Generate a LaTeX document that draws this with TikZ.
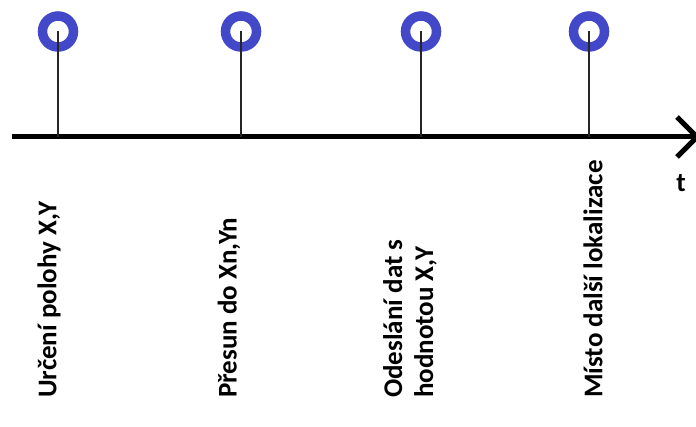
\documentclass[tikz,border=0pt]{standalone}
\usepackage{fontspec}
\setmainfont{Carlito}
\definecolor{evblue}{RGB}{66,72,200}
\begin{document}
\begin{tikzpicture}[x=1pt,y=-1pt,
  event/.style={circle, draw=evblue, line width=9.5pt, minimum size=31pt, inner sep=0pt},
  stem/.style={draw=black!85, line width=1.7pt},
  axis/.style={draw=black, line width=5pt},
  chev/.style={draw=black, line width=5pt, line join=miter},
  lab/.style={font=\bfseries\fontsize{27}{31}\selectfont, rotate=90, anchor=west, inner sep=0pt, align=left}]
\useasboundingbox (0,0) rectangle (696,427);

% time axis with an open arrow head
\coordinate (axstart) at (12,137);
\coordinate (axend) at (697,137);
\coordinate (barbU) at (677,117);
\coordinate (barbL) at (677,157);
\draw[axis] (axstart) -- (axend);
\draw[chev] (barbU) -- (axend) -- (barbL);
\node[font=\bfseries\fontsize{27}{30}\selectfont, inner sep=0pt] (t) at (681,183) {t};

% events on the axis
\foreach \i/\x in {1/58, 2/241, 3/421, 4/589}{
  \node[event] (c\i) at (\x,31.5) {};
  \coordinate (a\i) at (\x,137);
  \draw[stem] (c\i.center) -- (a\i);
}

% labels below the axis
\node[lab] (l1) at (49,398) {Určení polohy X,Y};
\node[lab] (l2) at (229,398) {Přesun do Xn,Yn};
\node[lab] (l3) at (410,398) {Odeslání dat s\\hodnotou X,Y};
\node[lab] (l4) at (593,398) {Místo další lokalizace};
\end{tikzpicture}
\end{document}
